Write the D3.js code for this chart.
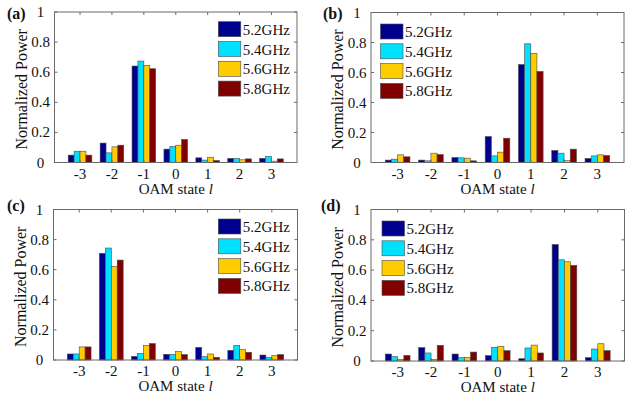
<!DOCTYPE html>
<html>
<head>
<meta charset="utf-8">
<script src="https://cdn.jsdelivr.net/npm/d3@7/dist/d3.min.js"></script>
<style>
  body { margin: 0; background: #fff; }
  svg { display: block; }
</style>
</head>
<body>
<svg id="chart" width="625" height="399"></svg>
<script>
// OAM states on the x axis
const states = [-3, -2, -1, 0, 1, 2, 3];
const freqs = ['5.2GHz', '5.4GHz', '5.6GHz', '5.8GHz'];
const yTicks = [0, 0.2, 0.4, 0.6, 0.8, 1];

// normalized power per frequency, one row per frequency (values for l = -3..3)
const powerA = [
  [0.049, 0.129, 0.641, 0.089, 0.031, 0.027, 0.027],
  [0.075, 0.064, 0.674, 0.106, 0.016, 0.027, 0.040],
  [0.075, 0.104, 0.645, 0.115, 0.035, 0.018, 0.009],
  [0.049, 0.115, 0.623, 0.153, 0.013, 0.024, 0.024],
];
const powerB = [
  [0.016, 0.016, 0.033, 0.173, 0.653, 0.080, 0.027],
  [0.022, 0.011, 0.031, 0.044, 0.791, 0.062, 0.044],
  [0.051, 0.062, 0.029, 0.069, 0.727, 0.013, 0.051],
  [0.038, 0.053, 0.011, 0.162, 0.607, 0.089, 0.047],
];
const powerC = [
  [0.040, 0.709, 0.024, 0.038, 0.084, 0.064, 0.033],
  [0.040, 0.744, 0.044, 0.038, 0.022, 0.096, 0.018],
  [0.087, 0.622, 0.096, 0.056, 0.040, 0.069, 0.029],
  [0.087, 0.664, 0.109, 0.036, 0.018, 0.051, 0.036],
];
const powerD = [
  [0.046, 0.088, 0.046, 0.035, 0.015, 0.769, 0.022],
  [0.029, 0.053, 0.022, 0.090, 0.086, 0.668, 0.079],
  [0.011, 0.011, 0.024, 0.097, 0.105, 0.655, 0.114],
  [0.037, 0.103, 0.059, 0.068, 0.053, 0.631, 0.068],
];

const colors = ['#00008f', '#00e0ff', '#ffcc00', '#800000'];

const panels = [
  { tag: '(a)', data: powerA, box: [54.5, 297, 12, 162.5], leg: [218.3, 21.7], tagPos: [7, 19] },
  { tag: '(b)', data: powerB, box: [371, 624, 12.5, 162.5], leg: [380.5, 24], tagPos: [323, 19] },
  { tag: '(c)', data: powerC, box: [53.5, 297.5, 209.5, 360], leg: [218.3, 219], tagPos: [7, 211] },
  { tag: '(d)', data: powerD, box: [371, 624.5, 209.5, 361], leg: [382, 221], tagPos: [321, 211] },
];

const serif = '"Liberation Serif", serif';
const svg = d3.select('#chart');
const axisColor = '#6a6a6a';
const groupW = 0.74;
const barW = groupW / freqs.length;

function label(g, x, y, str, size) {
  return g.append('text').attr('x', x).attr('y', y)
    .style('font-family', serif).attr('font-size', size).attr('fill', '#111')
    .text(str);
}

panels.forEach((p) => {
  const [left, right, top, bottom] = p.box;
  const x = d3.scaleLinear().domain([-3.8, 3.8]).range([left, right]);
  const y = d3.scaleLinear().domain([0, 1]).range([bottom, top]);
  const g = svg.append('g');

  // bars
  p.data.forEach((row, i) => {
    g.selectAll('.bar' + i)
      .data(row)
      .enter()
      .append('rect')
      .attr('x', (d, j) => x(states[j] - groupW / 2 + i * barW))
      .attr('width', x(barW) - x(0))
      .attr('y', (d) => y(d))
      .attr('height', (d) => y(0) - y(d))
      .attr('fill', colors[i])
      .attr('stroke', '#4a4a4a')
      .attr('stroke-width', 0.6);
  });

  // box
  g.append('rect')
    .attr('x', left).attr('y', top)
    .attr('width', right - left).attr('height', bottom - top)
    .attr('fill', 'none').attr('stroke', axisColor).attr('stroke-width', 1);

  // ticks inside the box
  states.forEach((s) => {
    g.append('line').attr('x1', x(s)).attr('x2', x(s)).attr('y1', bottom).attr('y2', bottom - 3)
      .attr('stroke', axisColor);
    g.append('line').attr('x1', x(s)).attr('x2', x(s)).attr('y1', top).attr('y2', top + 3)
      .attr('stroke', axisColor);
    label(g, x(s), bottom + 16, s, 15).attr('text-anchor', 'middle');
  });
  yTicks.forEach((t) => {
    g.append('line').attr('x1', left).attr('x2', left + 3).attr('y1', y(t)).attr('y2', y(t))
      .attr('stroke', axisColor);
    g.append('line').attr('x1', right).attr('x2', right - 3).attr('y1', y(t)).attr('y2', y(t))
      .attr('stroke', axisColor);
    label(g, left - 14, y(t) + 5, t, 15).attr('text-anchor', 'middle');
  });

  // axis labels
  const xl = label(g, (left + right) / 2, bottom + 31, '', 15).attr('text-anchor', 'middle');
  xl.append('tspan').text('OAM state ');
  xl.append('tspan').attr('font-style', 'italic').text('l');

  label(g, 0, 0, 'Normalized Power', 16)
    .attr('x', null).attr('y', null)
    .attr('transform', `translate(${left - 28},${(top + bottom) / 2 + 2}) rotate(-90)`)
    .attr('text-anchor', 'middle');

  label(g, p.tagPos[0], p.tagPos[1], p.tag, 16).attr('font-weight', 'bold');

  // legend
  freqs.forEach((f, i) => {
    const ly = p.leg[1] + i * 19.8;
    g.append('rect').attr('x', p.leg[0]).attr('y', ly).attr('width', 22.5).attr('height', 15)
      .attr('fill', colors[i]).attr('stroke', '#4a4a4a').attr('stroke-width', 0.6);
    label(g, p.leg[0] + 24.5, ly + 13, f, 15);
  });
});
</script>
</body>
</html>
